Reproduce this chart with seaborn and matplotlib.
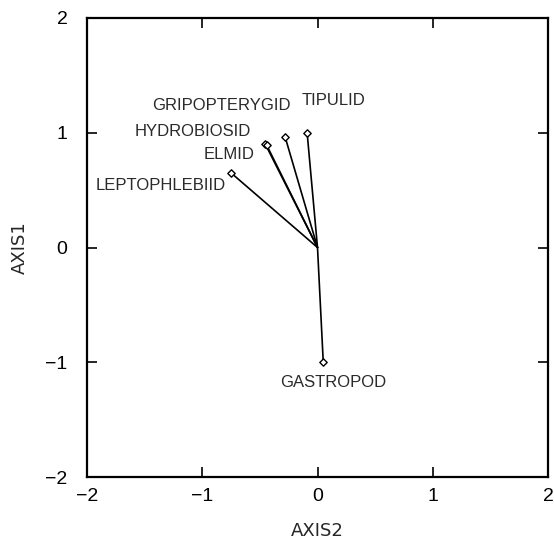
import matplotlib
matplotlib.use("Agg")
import matplotlib.pyplot as plt
import seaborn as sns
import pandas as pd

# Data (biplot vectors)
taxa = ["TIPULID", "GRIPOPTERYGID", "HYDROBIOSID", "ELMID", "LEPTOPHLEBIID", "GASTROPOD"]
axis2 = [-0.09, -0.28, -0.455, -0.44, -0.75, 0.05]
axis1 = [1.00, 0.96, 0.905, 0.89, 0.65, -1.00]
# label offsets in pixels (dx, dy) relative to the vector tip
label_dx = [26, -64, -72, -38, -70, 10]
label_dy = [32, 32, 12, -9, -13, -20]

ticks = [-2, -1, 0, 1, 2]

sns.set_theme(style="white")
plt.rcParams['font.family'] = ['Liberation Sans', 'DejaVu Sans']

rows = []
for t, x, y in zip(taxa, axis2, axis1):
    rows.append({"taxon": t, "AXIS2": 0.0, "AXIS1": 0.0, "order": 0})
    rows.append({"taxon": t, "AXIS2": x, "AXIS1": y, "order": 1})
seg = pd.DataFrame(rows)
tips = pd.DataFrame({"taxon": taxa, "AXIS2": axis2, "AXIS1": axis1})

fig = plt.figure(figsize=(5.54, 5.51), dpi=100)
ax = fig.add_axes([87/554, 74/551, 461/554, 459/551])

sns.lineplot(data=seg, x="AXIS2", y="AXIS1", units="taxon", estimator=None,
             sort=False, color="black", linewidth=1.2, ax=ax, legend=False)
sns.scatterplot(data=tips, x="AXIS2", y="AXIS1", marker="D", s=14,
                facecolor="white", edgecolor="black", linewidth=1.0, ax=ax,
                zorder=3, legend=False)

for t, x, y, dx, dy in zip(taxa, axis2, axis1, label_dx, label_dy):
    ax.annotate(t, (x, y), xytext=(dx, dy), textcoords="offset pixels",
                ha="center", va="center", fontsize=12, color="#2a2a2a",
                family=['Liberation Sans Narrow', 'Liberation Sans', 'DejaVu Sans'])

ax.set_xlim(-2, 2)
ax.set_ylim(-2, 2)
ax.set_xticks(ticks)
ax.set_yticks(ticks)
ax.set_xticklabels([f"{v}".replace("-", "\u2212") for v in ticks])
ax.set_yticklabels([f"{v}".replace("-", "\u2212") for v in ticks])
ax.tick_params(axis="both", direction="in", length=7, width=1.2, colors="black",
               labelsize=14, top=True, right=True, bottom=True, left=True,
               labeltop=False, labelright=False)
ax.tick_params(axis="x", pad=8)
ax.tick_params(axis="y", pad=14)
for sp in ax.spines.values():
    sp.set_color("black")
    sp.set_linewidth(1.6)
    sp.set_visible(True)

ax.set_xlabel("AXIS2", fontsize=13, labelpad=12, family=['DejaVu Sans'])
ax.set_ylabel("AXIS1", fontsize=13, labelpad=12, family=['DejaVu Sans'])

fig.savefig("out.png", dpi=100)
